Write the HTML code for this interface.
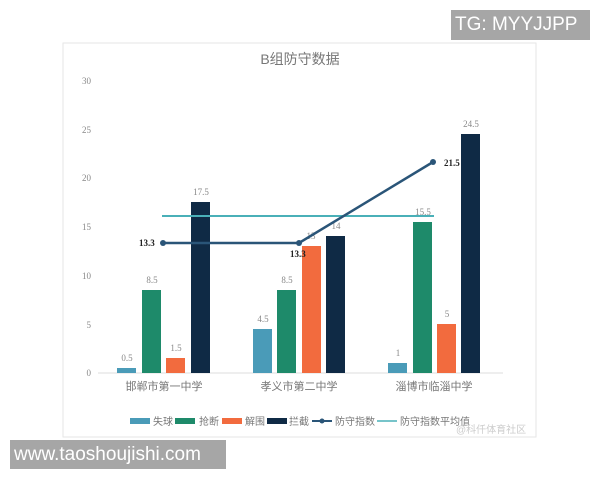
<!DOCTYPE html><html><head><meta charset="utf-8"><style>body{margin:0;background:#fff;width:600px;height:480px;overflow:hidden;position:relative;font-family:"Liberation Sans","Noto Sans CJK SC",sans-serif}
.wm{position:absolute;background:#a6a6a6;color:#fff;font-size:19px;line-height:30px;padding-left:4px}
</style></head><body>
<svg width="600" height="480" style="position:absolute;left:0;top:0">
<rect x="63" y="43" width="473" height="394" fill="#fff" stroke="#e6e6e6"/>
<text x="300" y="64" text-anchor="middle" font-size="14" fill="#777" font-family="Liberation Sans,Noto Sans CJK SC,sans-serif">B组防守数据</text>
<g font-family="Liberation Serif,serif" font-size="9" fill="#888" text-anchor="end">
<text x="91" y="84">30</text><text x="91" y="133">25</text><text x="91" y="181">20</text><text x="91" y="230">15</text><text x="91" y="279">10</text><text x="91" y="328">5</text><text x="91" y="376">0</text></g>
<line x1="98" y1="373" x2="503" y2="373" stroke="#ddd"/>
<g>
<rect x="117" y="368" width="19" height="5" fill="#4a9bb8"/><rect x="142" y="290" width="19" height="83" fill="#1e8a6a"/><rect x="166" y="358" width="19" height="15" fill="#f26b3e"/><rect x="191" y="202" width="19" height="171" fill="#0f2a45"/>
<rect x="253" y="329" width="19" height="44" fill="#4a9bb8"/><rect x="277" y="290" width="19" height="83" fill="#1e8a6a"/><rect x="302" y="246" width="19" height="127" fill="#f26b3e"/><rect x="326" y="236" width="19" height="137" fill="#0f2a45"/>
<rect x="388" y="363" width="19" height="10" fill="#4a9bb8"/><rect x="413" y="222" width="19" height="151" fill="#1e8a6a"/><rect x="437" y="324" width="19" height="49" fill="#f26b3e"/><rect x="461" y="134" width="19" height="239" fill="#0f2a45"/>
</g>
<g font-family="Liberation Serif,serif" font-size="9" fill="#888" text-anchor="middle">
<text x="127" y="361">0.5</text><text x="152" y="283">8.5</text><text x="176" y="351">1.5</text><text x="201" y="195">17.5</text>
<text x="263" y="322">4.5</text><text x="287" y="283">8.5</text><text x="311" y="239">13</text><text x="336" y="229">14</text>
<text x="398" y="356">1</text><text x="423" y="215">15.5</text><text x="447" y="317">5</text><text x="471" y="127">24.5</text></g>
<line x1="162" y1="216" x2="434" y2="216" stroke="#4ab0b8" stroke-width="2"/>
<polyline points="163,243 299,243 433,162" fill="none" stroke="#2a5578" stroke-width="2.5"/>
<g fill="#2a5578"><circle cx="163" cy="243" r="3"/><circle cx="299" cy="243" r="3"/><circle cx="433" cy="162" r="3"/></g>
<g font-family="Liberation Serif,serif" font-size="9" font-weight="bold" fill="#222">
<text x="139" y="246">13.3</text><text x="290" y="257">13.3</text><text x="444" y="166">21.5</text></g>
<g font-size="11" fill="#777" text-anchor="middle" font-family="Liberation Sans,Noto Sans CJK SC,sans-serif">
<text x="164" y="390">邯郸市第一中学</text><text x="299" y="390">孝义市第二中学</text><text x="434" y="390">淄博市临淄中学</text></g>
<g font-size="10" fill="#777" font-family="Liberation Sans,Noto Sans CJK SC,sans-serif">
<rect x="130" y="418" width="20" height="6" fill="#4a9bb8"/><text x="153" y="425">失球</text>
<rect x="175" y="418" width="20" height="6" fill="#1e8a6a"/><text x="199" y="425">抢断</text>
<rect x="222" y="418" width="20" height="6" fill="#f26b3e"/><text x="245" y="425">解围</text>
<rect x="267" y="418" width="20" height="6" fill="#0f2a45"/><text x="289" y="425">拦截</text>
<line x1="312" y1="421" x2="332" y2="421" stroke="#2a5578" stroke-width="2"/><circle cx="322" cy="421" r="2.5" fill="#2a5578"/><text x="335" y="425">防守指数</text>
<line x1="377" y1="421" x2="397" y2="421" stroke="#4ab0b8" stroke-width="1.5"/><text x="400" y="425">防守指数平均值</text>
<text x="456" y="433" fill="#ccc">@科仟体育社区</text></g>
</svg>
<div class="wm" style="left:451px;top:10px;width:135px;height:30px">TG: MYYJJPP</div>
<div class="wm" style="left:10px;top:440px;width:212px;height:29px">www.taoshoujishi.com</div>
</body></html>
